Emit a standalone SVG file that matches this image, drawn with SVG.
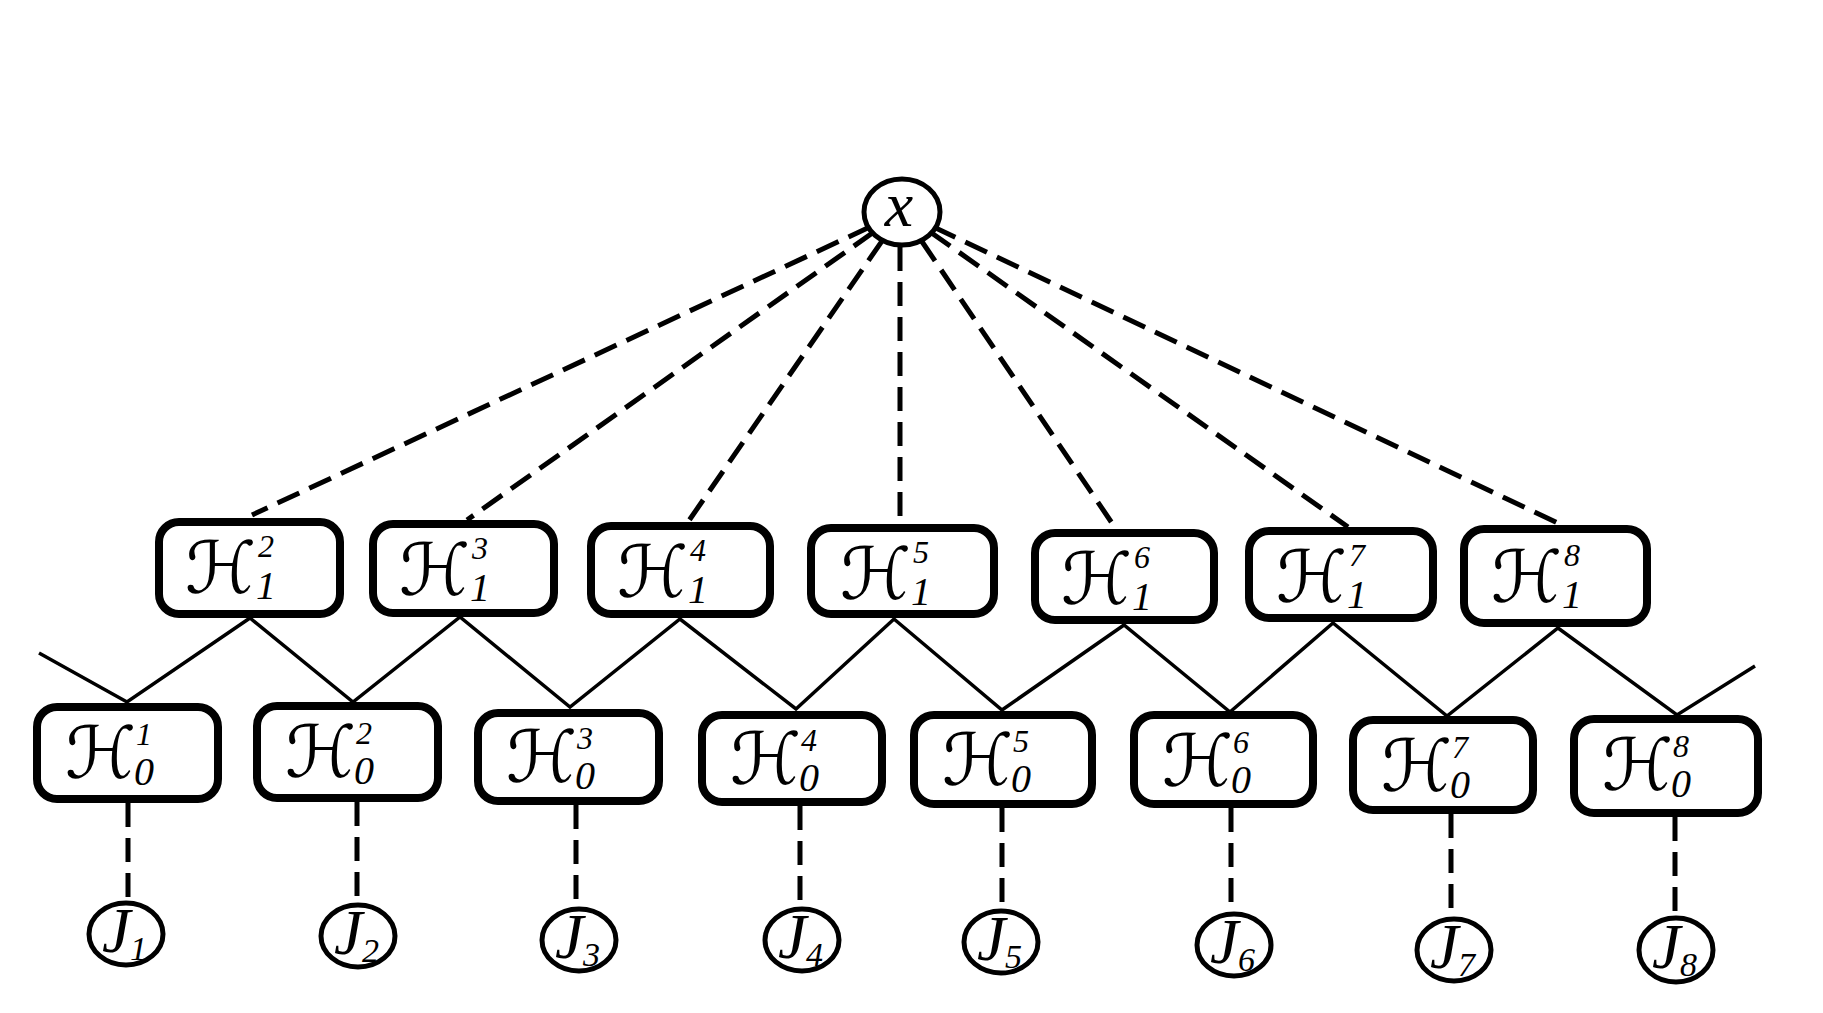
<svg xmlns="http://www.w3.org/2000/svg" width="1823" height="1013" viewBox="0 0 1823 1013">
<style>
.box{fill:#fff;stroke:#000;stroke-width:8}
.circ{fill:#fff;stroke:#000;stroke-width:5}
.dash{stroke:#000;stroke-width:5;stroke-dasharray:24 11;fill:none}
.solid{stroke:#000;stroke-width:3.5;fill:none}
.h{font-family:"DejaVu Sans",serif;font-size:72px}
.sup{font-family:"Liberation Serif",serif;font-style:italic;font-size:32px}
.sub{font-family:"Liberation Serif",serif;font-style:italic;font-size:40px}
.lbl{font-family:"Liberation Serif",serif;font-style:italic;font-size:64px}
.jsub{font-family:"Liberation Serif",serif;font-style:italic;font-size:34px}
</style>
<rect width="1823" height="1013" fill="#fff"/>
<g id="connectors">
<line class="dash" x1="902" y1="212" x2="252" y2="515"/>
<line class="dash" x1="902" y1="212" x2="467" y2="520"/>
<line class="dash" x1="902" y1="212" x2="688" y2="522"/>
<line class="dash" x1="900" y1="212" x2="900" y2="524"/>
<line class="dash" x1="902" y1="212" x2="1116" y2="529"/>
<line class="dash" x1="902" y1="212" x2="1348" y2="527"/>
<line class="dash" x1="902" y1="212" x2="1562" y2="525"/>
<polyline class="solid" points="39,653 127,702 250,618 353,702 460,617 570,707 680,619 796,709 894,619 1002,710 1124,625 1230,712 1333,623 1447,716 1558,628 1677,715 1755,666"/>
<line class="dash" x1="128" y1="803" x2="128" y2="902"/>
<line class="dash" x1="357" y1="802" x2="357" y2="904"/>
<line class="dash" x1="576" y1="805" x2="576" y2="909"/>
<line class="dash" x1="800" y1="806" x2="800" y2="909"/>
<line class="dash" x1="1002" y1="808" x2="1002" y2="910"/>
<line class="dash" x1="1231" y1="808" x2="1231" y2="914"/>
<line class="dash" x1="1451" y1="814" x2="1451" y2="918"/>
<line class="dash" x1="1675" y1="817" x2="1675" y2="918"/>
</g>
<g id="node-x"><ellipse class="circ" cx="902" cy="212" rx="38" ry="33"/><text class="lbl" x="899" y="226" text-anchor="middle">x</text></g>

<g id="node-H1-2"><rect class="box" x="159" y="522" width="181" height="92" rx="20"/><text class="h" x="185" y="593">ℋ<tspan class="sup" x="258" y="557">2</tspan><tspan class="sub" x="256" y="599">1</tspan></text></g>
<g id="node-H1-3"><rect class="box" x="373" y="524" width="181" height="89" rx="20"/><text class="h" x="399" y="595">ℋ<tspan class="sup" x="472" y="559">3</tspan><tspan class="sub" x="470" y="601">1</tspan></text></g>
<g id="node-H1-4"><rect class="box" x="591" y="526" width="179" height="88" rx="20"/><text class="h" x="617" y="597">ℋ<tspan class="sup" x="690" y="561">4</tspan><tspan class="sub" x="688" y="603">1</tspan></text></g>
<g id="node-H1-5"><rect class="box" x="811" y="528" width="183" height="86" rx="20"/><text class="h" x="840" y="599">ℋ<tspan class="sup" x="913" y="563">5</tspan><tspan class="sub" x="911" y="605">1</tspan></text></g>
<g id="node-H1-6"><rect class="box" x="1035" y="533" width="179" height="87" rx="20"/><text class="h" x="1061" y="604">ℋ<tspan class="sup" x="1134" y="568">6</tspan><tspan class="sub" x="1132" y="610">1</tspan></text></g>
<g id="node-H1-7"><rect class="box" x="1249" y="531" width="184" height="87" rx="20"/><text class="h" x="1276" y="602">ℋ<tspan class="sup" x="1349" y="566">7</tspan><tspan class="sub" x="1347" y="608">1</tspan></text></g>
<g id="node-H1-8"><rect class="box" x="1464" y="529" width="183" height="94" rx="20"/><text class="h" x="1491" y="602">ℋ<tspan class="sup" x="1564" y="566">8</tspan><tspan class="sub" x="1562" y="608">1</tspan></text></g>

<g id="node-H0-1"><rect class="box" x="37" y="707" width="181" height="92" rx="20"/><text class="h" x="65" y="778">ℋ<tspan class="sup" x="136" y="745">1</tspan><tspan class="sub" x="134" y="785">0</tspan></text></g>
<g id="node-H0-2"><rect class="box" x="257" y="706" width="181" height="92" rx="20"/><text class="h" x="285" y="777">ℋ<tspan class="sup" x="356" y="744">2</tspan><tspan class="sub" x="354" y="784">0</tspan></text></g>
<g id="node-H0-3"><rect class="box" x="478" y="713" width="181" height="88" rx="20"/><text class="h" x="506" y="782">ℋ<tspan class="sup" x="577" y="749">3</tspan><tspan class="sub" x="575" y="789">0</tspan></text></g>
<g id="node-H0-4"><rect class="box" x="702" y="715" width="180" height="87" rx="20"/><text class="h" x="730" y="784">ℋ<tspan class="sup" x="801" y="751">4</tspan><tspan class="sub" x="799" y="791">0</tspan></text></g>
<g id="node-H0-5"><rect class="box" x="914" y="715" width="178" height="89" rx="20"/><text class="h" x="942" y="785">ℋ<tspan class="sup" x="1013" y="752">5</tspan><tspan class="sub" x="1011" y="792">0</tspan></text></g>
<g id="node-H0-6"><rect class="box" x="1134" y="715" width="179" height="89" rx="20"/><text class="h" x="1162" y="786">ℋ<tspan class="sup" x="1233" y="753">6</tspan><tspan class="sub" x="1231" y="793">0</tspan></text></g>
<g id="node-H0-7"><rect class="box" x="1353" y="720" width="180" height="90" rx="20"/><text class="h" x="1381" y="791">ℋ<tspan class="sup" x="1452" y="758">7</tspan><tspan class="sub" x="1450" y="798">0</tspan></text></g>
<g id="node-H0-8"><rect class="box" x="1574" y="719" width="184" height="94" rx="20"/><text class="h" x="1602" y="790">ℋ<tspan class="sup" x="1673" y="757">8</tspan><tspan class="sub" x="1671" y="797">0</tspan></text></g>

<g id="node-J1"><ellipse class="circ" cx="126" cy="934" rx="37" ry="31"/><text class="lbl" x="102" y="952">J<tspan class="jsub" x="130" y="960">1</tspan></text></g>
<g id="node-J2"><ellipse class="circ" cx="358" cy="936" rx="37" ry="31"/><text class="lbl" x="334" y="954">J<tspan class="jsub" x="362" y="962">2</tspan></text></g>
<g id="node-J3"><ellipse class="circ" cx="579" cy="940" rx="37" ry="31"/><text class="lbl" x="555" y="958">J<tspan class="jsub" x="583" y="966">3</tspan></text></g>
<g id="node-J4"><ellipse class="circ" cx="802" cy="940" rx="37" ry="31"/><text class="lbl" x="778" y="958">J<tspan class="jsub" x="806" y="966">4</tspan></text></g>
<g id="node-J5"><ellipse class="circ" cx="1001" cy="942" rx="37" ry="31"/><text class="lbl" x="977" y="960">J<tspan class="jsub" x="1005" y="968">5</tspan></text></g>
<g id="node-J6"><ellipse class="circ" cx="1234" cy="945" rx="37" ry="31"/><text class="lbl" x="1210" y="963">J<tspan class="jsub" x="1238" y="971">6</tspan></text></g>
<g id="node-J7"><ellipse class="circ" cx="1454" cy="950" rx="37" ry="31"/><text class="lbl" x="1430" y="968">J<tspan class="jsub" x="1458" y="976">7</tspan></text></g>
<g id="node-J8"><ellipse class="circ" cx="1676" cy="950" rx="37" ry="32"/><text class="lbl" x="1652" y="968">J<tspan class="jsub" x="1680" y="976">8</tspan></text></g>
</svg>
